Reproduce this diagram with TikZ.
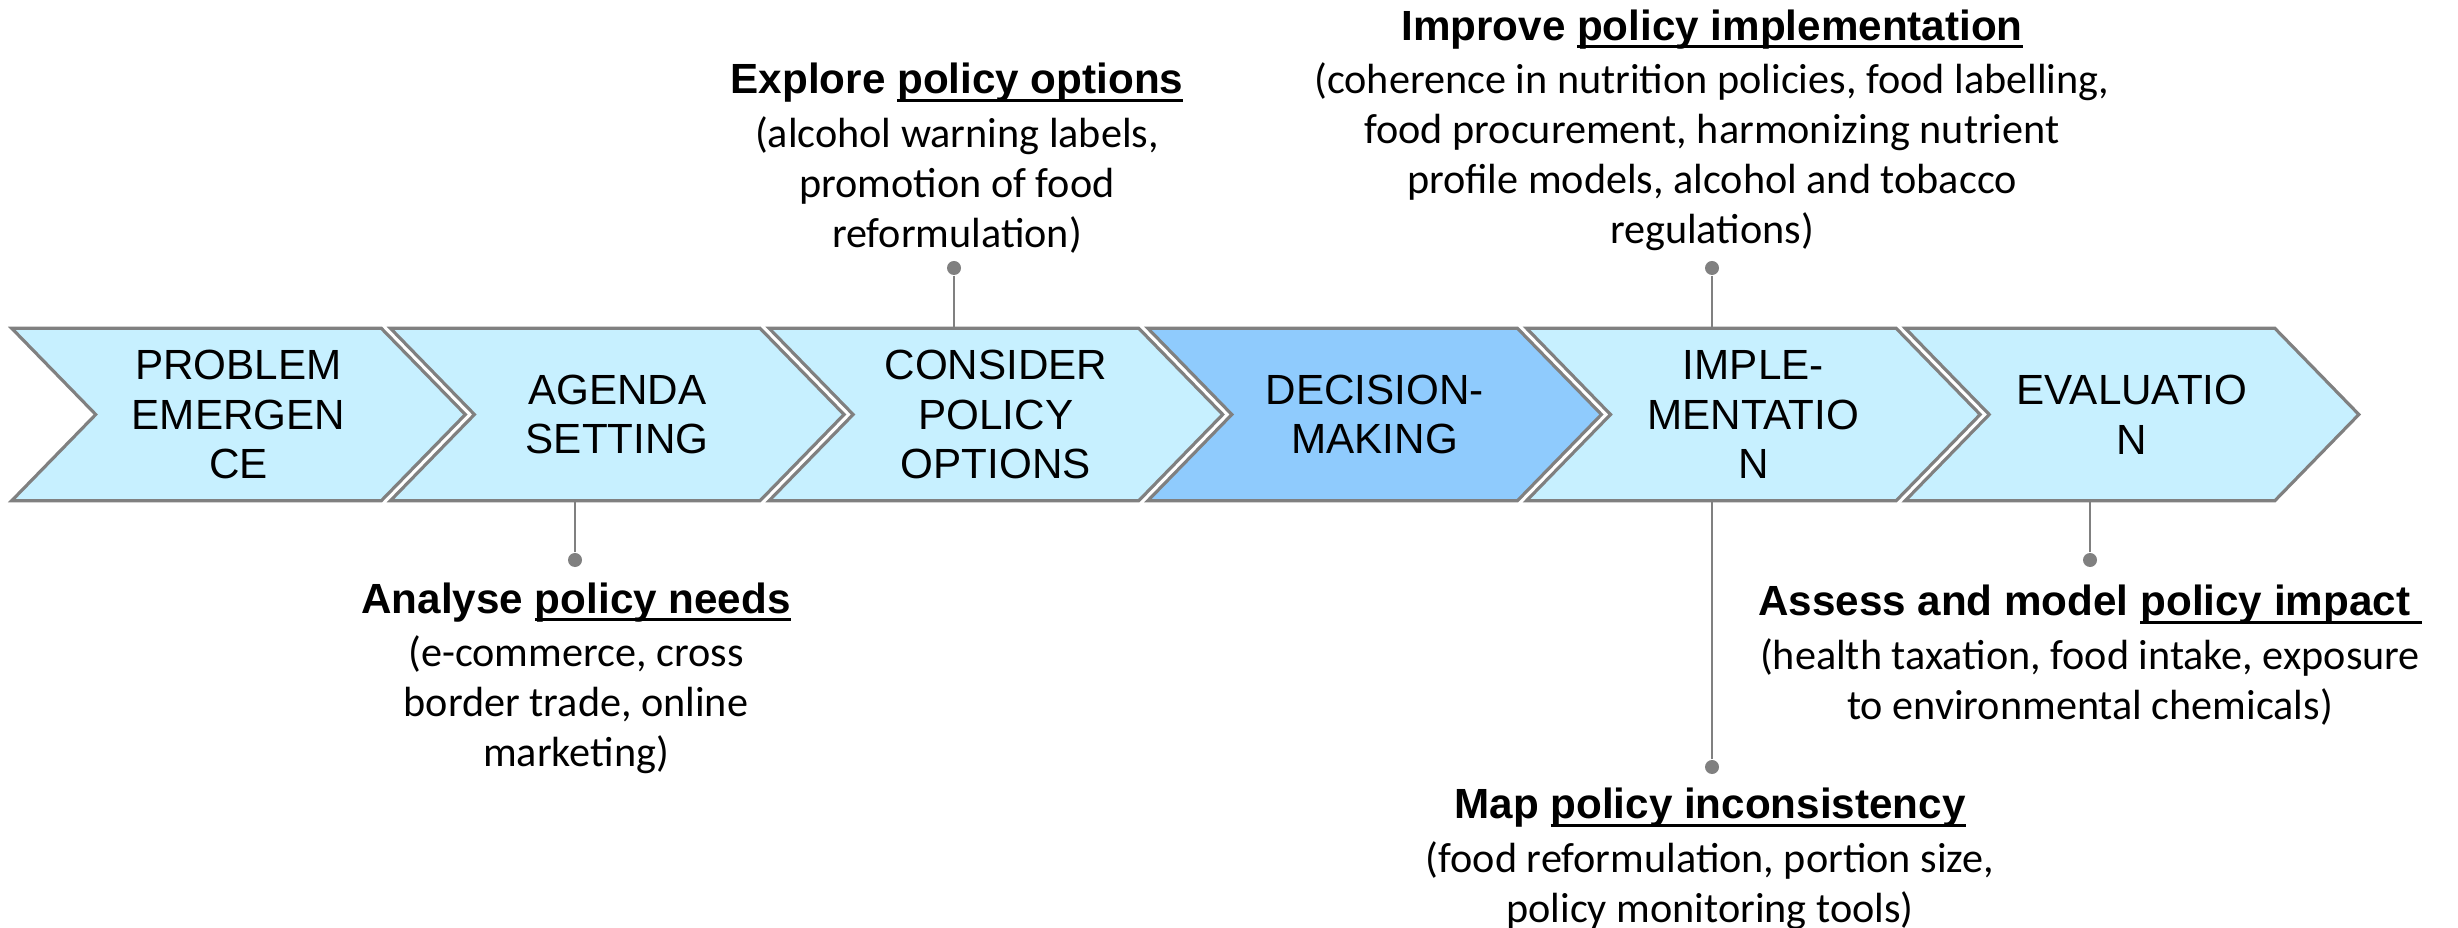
\documentclass[tikz,border=0pt]{standalone}
\usepackage{fontspec}
\setmainfont{Carlito}
\newfontfamily\arialfont{Liberation Sans}
\usetikzlibrary{backgrounds,calc}
\definecolor{lightchev}{RGB}{199,240,255}
\definecolor{darkchev}{RGB}{143,203,253}
\definecolor{edgegray}{RGB}{128,128,128}
\newcommand\myul[1]{\setbox0\hbox{#1}\rlap{\rule[-2.3pt]{\wd0}{0.85pt}}\box0}
\newcommand\ttl[1]{{\arialfont\bfseries #1}}
\begin{document}
\begin{tikzpicture}[x=0.01cm,y=-0.01cm,
  chevtext/.style={inner sep=0pt, minimum width=4.52cm, minimum height=1.71cm, align=center, font=\arialfont\fontsize{12}{14.2}\selectfont},
  chevshape/.style={draw=edgegray, line width=0.9pt, line join=miter},
  note/.style={inner sep=0pt, align=center, font=\fontsize{12}{14.2}\selectfont},
  dot/.style={circle, fill=edgegray, inner sep=0pt, minimum size=0.14cm},
  link/.style={draw=edgegray, line width=0.55pt}]
\useasboundingbox (0,0) rectangle (2458,928);

\node[chevtext] (c1) at (238.5,414.5) {PROBLEM\\EMERGEN\\CE};
\node[chevtext] (c2) at (617.2,414.5) {AGENDA\\SETTING};
\node[chevtext] (c3) at (995.9,414.5) {CONSIDER\\POLICY\\OPTIONS};
\node[chevtext] (c4) at (1374.6,414.5) {DECISION-\\MAKING};
\node[chevtext] (c5) at (1753.3,414.5) {IMPLE-\\MENTATIO\\N};
\node[chevtext] (c6) at (2132.0,414.5) {EVALUATIO\\N};

\begin{scope}[on background layer]
\foreach \n/\c in {c1/lightchev, c2/lightchev, c3/lightchev, c4/darkchev, c5/lightchev, c6/lightchev}
  \path[chevshape, fill=\c] (\n.north west) -- ([xshift=-0.84cm]\n.north east) -- (\n.east) -- ([xshift=-0.84cm]\n.south east) -- (\n.south west) -- ([xshift=0.84cm]\n.west) -- cycle;
\end{scope}

\node[dot] (d3) at (954,268) {};
\node[dot] (d5) at (1712,268) {};
\node[dot] (d2) at (575,560) {};
\node[dot] (d5b) at (1712,767) {};
\node[dot] (d6) at (2090,560) {};

\draw[link] (d3) -- (d3 |- c3.north);
\draw[link] (d5) -- (d5 |- c5.north);
\draw[link] (d2) -- (d2 |- c2.south);
\draw[link] (d5b) -- (d5b |- c5.south);
\draw[link] (d6) -- (d6 |- c6.south);

\node[note] (n3) at (957,158) {\ttl{Explore \myul{policy options}}\\[1pt]
(alcohol warning labels,\\promotion of food\\reformulation)};
\node[note] (n5) at (1712,130) {\ttl{Improve \myul{policy implementation}}\\[1pt]
(coherence in nutrition policies, food labelling,\\food procurement, harmonizing nutrient\\profile models, alcohol and tobacco\\regulations)};
\node[note] (n2) at (576,678) {\ttl{Analyse \myul{policy needs}}\\[1pt]
(e-commerce, cross\\border trade, online\\marketing)};
\node[note] (n5b) at (1710,859) {\ttl{Map \myul{policy inconsistency}}\\[1pt]
(food reformulation, portion size,\\policy monitoring tools)};
\node[note] (n6) at (2090,655) {\ttl{Assess and model \myul{policy impact\ }}\\[1pt]
(health taxation, food intake, exposure\\to environmental chemicals)};
\end{tikzpicture}
\end{document}
